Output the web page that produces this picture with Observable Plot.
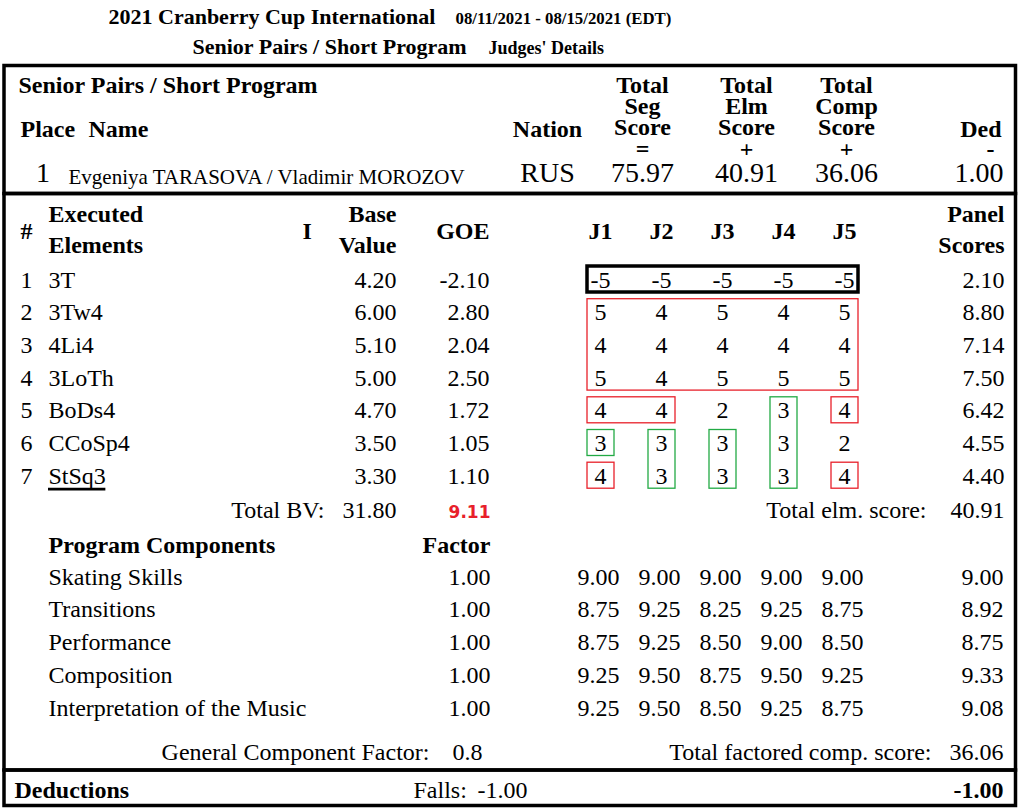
<!DOCTYPE html>
<html>
<head>
<meta charset="utf-8">
<script src="https://cdn.jsdelivr.net/npm/d3@7"></script>
<script src="https://cdn.jsdelivr.net/npm/@observablehq/plot@0.6"></script>
<style>
  html, body { margin: 0; padding: 0; background: #fff; }
  #chart svg { display: block; }
</style>
</head>
<body>
<div id="chart"></div>
<script>
// ---------------- DATA ----------------
const competition = "2021 Cranberry Cup International";
const eventDates = "08/11/2021 - 08/15/2021 (EDT)";
const segmentName = "Senior Pairs / Short Program";
const reportType = "Judges' Details";

const place = 1;
const skaterName = "Evgeniya TARASOVA / Vladimir MOROZOV";
const nation = "RUS";
const totalSegmentScore = 75.97;
const totalElementScore = 40.91;
const totalComponentScore = 36.06;
const totalDeductionsShown = 1.00;

const elementNames = ["3T", "3Tw4", "4Li4", "3LoTh", "BoDs4", "CCoSp4", "StSq3"];
const baseValues = [4.20, 6.00, 5.10, 5.00, 4.70, 3.50, 3.30];
const goeValues = [-2.10, 2.80, 2.04, 2.50, 1.72, 1.05, 1.10];
const judges = ["J1", "J2", "J3", "J4", "J5"];
const judgeGoe = [
  [-5, -5, -5, -5, -5],
  [5, 4, 5, 4, 5],
  [4, 4, 4, 4, 4],
  [5, 4, 5, 5, 5],
  [4, 4, 2, 3, 4],
  [3, 3, 3, 3, 2],
  [4, 3, 3, 3, 4]
];
const elementPanelScores = [2.10, 8.80, 7.14, 7.50, 6.42, 4.55, 4.40];
const underlinedElements = ["StSq3"];
const totalBaseValue = 31.80;
const totalGoe = 9.11;

const componentNames = ["Skating Skills", "Transitions", "Performance", "Composition", "Interpretation of the Music"];
const componentFactors = [1.00, 1.00, 1.00, 1.00, 1.00];
const judgeComponents = [
  [9.00, 9.00, 9.00, 9.00, 9.00],
  [8.75, 9.25, 8.25, 9.25, 8.75],
  [8.75, 9.25, 8.50, 9.00, 8.50],
  [9.25, 9.50, 8.75, 9.50, 9.25],
  [9.25, 9.50, 8.50, 9.25, 8.75]
];
const componentPanelScores = [9.00, 8.92, 8.75, 9.33, 9.08];
const generalComponentFactor = "0.8";
const fallsDeduction = -1.00;
const deductionsTotal = -1.00;

// highlighted judge groups: element rows (first,last), judge columns (first,last), kind
const highlightRows = [[0,0],[1,3],[4,4],[4,6],[4,4],[5,5],[5,6],[5,6],[6,6],[6,6]];
const highlightJudges = [[0,4],[0,4],[0,1],[3,3],[4,4],[0,0],[1,1],[2,2],[0,0],[4,4]];
const highlightKinds = ["black","red","red","green","red","green","green","green","red","red"];

// score header labels
const scoreHeadLabels = ["Total\nSeg\nScore\n=", "Total\nElm\nScore\n+", "Total\nComp\nScore\n+"];
const scoreHeadValues = [totalSegmentScore, totalElementScore, totalComponentScore];

// ---------------- LAYOUT / STYLE ----------------
const L = {
  W: 1023, H: 812,
  serif: "'Liberation Serif','Times New Roman',serif",
  sans: "'DejaVu Sans','Verdana',sans-serif",
  frameX: [4, 1015.5],
  frameY: [65.5, 193.5, 770, 805.5],
  frameStroke: 3.5,
  scoreHeadX: [642, 746, 846],
  judgeX: [600, 661, 722, 783, 844],
  compShift: -2,
  elemBase0: 287, elemStep: 32.7,
  compBase0: 584, compStep: 32.75,
  colNum: 20, colName: 48, colI: 302, colBase: 396, colGoe: 489, colPanel: 1004,
  boxPadL: 13, boxPadR: 14, boxTop: 21, boxBottom: 5,
  kindColor: {black: "#000", red: "#e8202a", green: "#22aa44"},
  kindWidth: {black: 3.5, red: 1.3, green: 1.3},
  red: "#e8202a"
};
const f2 = v => v.toFixed(2);
const elemY = i => L.elemBase0 + i * L.elemStep;
const compY = i => L.compBase0 + i * L.compStep;

// ---------------- TEXT RECORDS ----------------
const texts = [];
function put(x, y, t, o = {}) {
  texts.push({
    x, y, t: String(t),
    anchor: o.anchor ?? "start",
    size: o.size ?? 24,
    weight: o.weight ?? "normal",
    fill: o.fill ?? "#000",
    family: o.family ?? L.serif
  });
}
const B = {weight: "bold"};

// title lines
put(108, 23, competition, {size: 22, weight: "bold"});
put(455, 23, eventDates, {size: 16.8, weight: "bold"});
put(192, 53, segmentName, {size: 22, weight: "bold"});
put(488, 53, reportType, {size: 18, weight: "bold"});

// header box
put(18, 92, segmentName, B);
put(20, 136, "Place", B);
put(88, 136, "Name", B);
put(42.5, 181, place, {size: 28, anchor: "middle"});
put(68, 183, skaterName, {size: 21});
put(547, 136, "Nation", {...B, anchor: "middle"});
put(547, 181, nation, {size: 28, anchor: "middle"});
scoreHeadValues.forEach((v, k) => put(L.scoreHeadX[k], 181, f2(v), {size: 28, anchor: "middle"}));
put(1001, 136, "Ded", {...B, anchor: "end"});
put(990, 156, "-", {...B, anchor: "middle"});
put(1003, 181, f2(totalDeductionsShown), {size: 28, anchor: "end"});

// elements header
put(L.colNum, 238, "#", B);
put(L.colName, 221, "Executed", B);
put(L.colName, 252, "Elements", B);
put(L.colI, 238, "I", B);
put(L.colBase, 221, "Base", {...B, anchor: "end"});
put(L.colBase, 252, "Value", {...B, anchor: "end"});
put(L.colGoe, 238, "GOE", {...B, anchor: "end"});
judges.forEach((j, k) => put(L.judgeX[k], 238, j, {...B, anchor: "middle"}));
put(L.colPanel, 221, "Panel", {...B, anchor: "end"});
put(L.colPanel, 252, "Scores", {...B, anchor: "end"});

// element rows
elementNames.forEach((name, i) => {
  const y = elemY(i);
  put(L.colNum, y, i + 1);
  put(L.colName, y, name);
  put(L.colBase, y, f2(baseValues[i]), {anchor: "end"});
  put(L.colGoe, y, f2(goeValues[i]), {anchor: "end"});
  judgeGoe[i].forEach((g, k) => put(L.judgeX[k], y, g, {anchor: "middle"}));
  put(L.colPanel, y, f2(elementPanelScores[i]), {anchor: "end"});
});
put(324, 517, "Total BV:", {anchor: "end"});
put(L.colBase, 517, f2(totalBaseValue), {anchor: "end"});
put(490, 517, f2(totalGoe), {anchor: "end", size: 17, weight: "bold", fill: L.red, family: L.sans});
put(926, 517, "Total elm. score:", {anchor: "end"});
put(L.colPanel, 517, f2(totalElementScore), {anchor: "end"});

// components
put(L.colName, 552, "Program Components", B);
put(490, 552, "Factor", {...B, anchor: "end"});
componentNames.forEach((name, i) => {
  const y = compY(i);
  put(L.colName, y, name);
  put(490, y, f2(componentFactors[i]), {anchor: "end"});
  judgeComponents[i].forEach((v, k) => put(L.judgeX[k] + L.compShift, y, f2(v), {anchor: "middle"}));
  put(1003, y, f2(componentPanelScores[i]), {anchor: "end"});
});
put(429, 759, "General Component Factor:", {anchor: "end"});
put(482, 759, generalComponentFactor, {anchor: "end"});
put(931, 759, "Total factored comp. score:", {anchor: "end"});
put(1003, 759, f2(totalComponentScore), {anchor: "end"});

// deductions
put(14, 797, "Deductions", B);
put(413, 797, "Falls:");
put(527, 797, f2(fallsDeduction), {anchor: "end"});
put(1003, 797, f2(deductionsTotal), {...B, anchor: "end"});

// ---------------- SHAPES ----------------
const frames = [0, 1, 2].map(k => ({x1: L.frameX[0], x2: L.frameX[1], y1: L.frameY[k], y2: L.frameY[k + 1]}));
const boxes = highlightRows.map((r, k) => ({
  x1: L.judgeX[highlightJudges[k][0]] - L.boxPadL,
  x2: L.judgeX[highlightJudges[k][1]] + L.boxPadR,
  y1: elemY(r[0]) - L.boxTop,
  y2: elemY(r[1]) + L.boxBottom,
  kind: highlightKinds[k]
}));

const ctx = document.createElement("canvas").getContext("2d");
ctx.font = `24px ${L.serif}`;
const underlines = elementNames
  .map((n, i) => ({n, i}))
  .filter(d => underlinedElements.includes(d.n))
  .map(d => ({x1: L.colName, x2: L.colName + ctx.measureText(d.n).width, y: elemY(d.i) + 5.5}));

// ---------------- MARKS ----------------
const marks = [];
marks.push(Plot.rect(frames, {x1: "x1", x2: "x2", y1: "y1", y2: "y2", fill: "none", stroke: "#000", strokeWidth: L.frameStroke}));
for (const kind of ["red", "green", "black"]) {
  marks.push(Plot.rect(boxes.filter(b => b.kind === kind), {
    x1: "x1", x2: "x2", y1: "y1", y2: "y2", fill: "none",
    stroke: L.kindColor[kind], strokeWidth: L.kindWidth[kind]
  }));
}
marks.push(Plot.ruleY(underlines, {x1: "x1", x2: "x2", y: "y", stroke: "#000", strokeWidth: 2.8}));

// stacked score headers (one multi-line text each)
marks.push(Plot.text(scoreHeadLabels, {
  x: (d, i) => L.scoreHeadX[i], y: () => 156, text: d => d,
  textAnchor: "middle", lineAnchor: "bottom", lineHeight: 21.33 / 24,
  fontSize: 24, fontWeight: "bold", fill: "#000", fontFamily: L.serif
}));

const groups = d3.groups(texts, d => [d.anchor, d.size, d.weight, d.fill, d.family].join("|"));
for (const [, g] of groups) {
  const s = g[0];
  marks.push(Plot.text(g, {
    x: "x", y: "y", text: "t",
    textAnchor: s.anchor, lineAnchor: "bottom",
    fontSize: s.size, fontWeight: s.weight, fill: s.fill, fontFamily: s.family
  }));
}

const chart = Plot.plot({
  width: L.W, height: L.H,
  margin: 0,
  x: {domain: [0, L.W], range: [0, L.W], axis: null},
  y: {domain: [0, L.H], range: [0, L.H], axis: null},
  style: {background: "#fff"},
  marks
});
document.getElementById("chart").appendChild(chart);
</script>
</body>
</html>
